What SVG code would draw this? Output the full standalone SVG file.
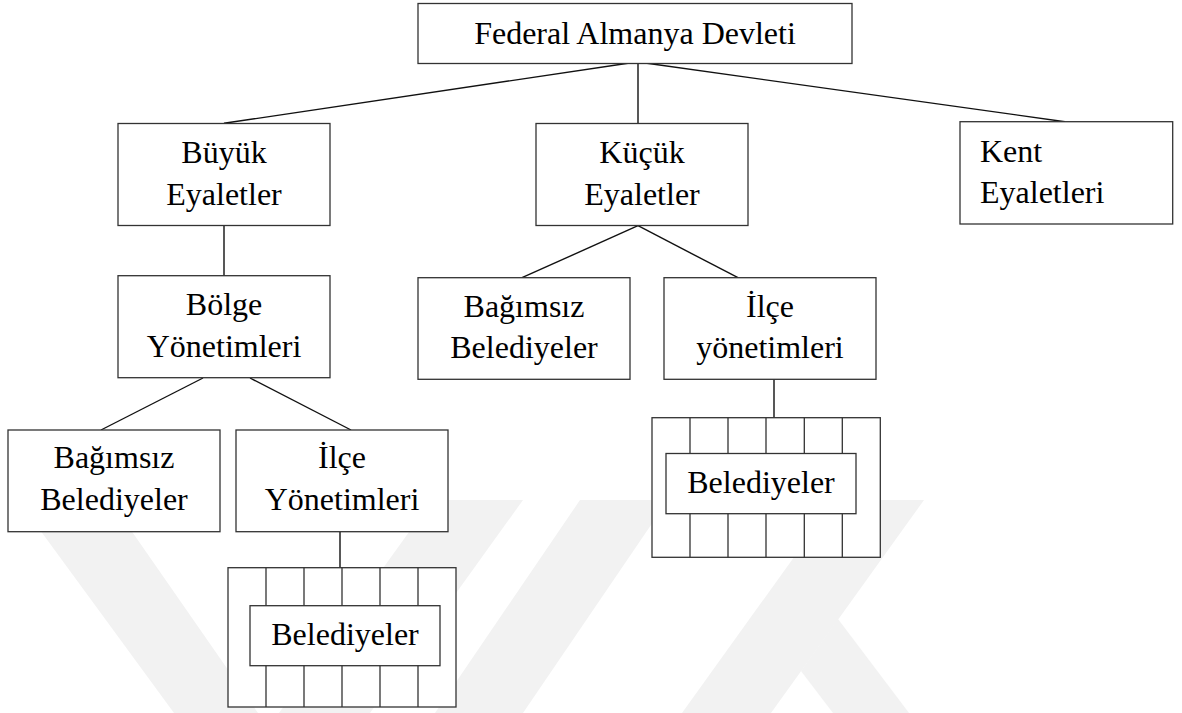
<svg xmlns="http://www.w3.org/2000/svg" width="1182" height="713" viewBox="0 0 1182 713">
<style>
.box{fill:#fff;stroke:#333;stroke-width:1.3}
.col{stroke:#333;stroke-width:1.3;fill:none}
.ln{stroke:#111;stroke-width:1.4;fill:none}
.t{font-family:"Liberation Serif","Times New Roman",serif;font-size:32px;fill:#000;text-anchor:middle}
.wm{fill:#f2f2f2}
</style>
<rect width="1182" height="713" fill="#fff"/>
<g id="watermark">
<polygon class="wm" points="18,500 110,500 258,713 174,713"/>
<polygon class="wm" points="432,500 523,500 370,713 279,713"/>
<polygon class="wm" points="580,500 668,500 523,713 435,713"/>
<polygon class="wm" points="835,500 924,500 771,713 682,713"/>
<polygon class="wm" points="801,671 838,619 909,713 833,713"/>
</g>
<g id="connectors">
<line class="ln" x1="628" y1="63.3" x2="224" y2="123.3"/>
<line class="ln" x1="638" y1="63.3" x2="638" y2="123.3"/>
<line class="ln" x1="647" y1="63.3" x2="1065" y2="121.7"/>
<line class="ln" x1="224" y1="225.7" x2="224" y2="275.7"/>
<line class="ln" x1="638" y1="225.7" x2="522" y2="277.7"/>
<line class="ln" x1="638" y1="225.7" x2="738" y2="277.7"/>
<line class="ln" x1="203" y1="378" x2="101" y2="430"/>
<line class="ln" x1="250" y1="378" x2="351" y2="430"/>
<line class="ln" x1="774" y1="379.3" x2="774" y2="417.7"/>
<line class="ln" x1="340" y1="531.7" x2="340" y2="567.7"/>
</g>
<g id="federal">
<rect class="box" x="418" y="3.5" width="434" height="60"/>
<text class="t" x="635" y="43.5">Federal Almanya Devleti</text>
</g>
<g id="buyuk">
<rect class="box" x="118" y="123.5" width="212" height="102"/>
<text class="t" x="224" y="162.7">Büyük</text>
<text class="t" x="224" y="205">Eyaletler</text>
</g>
<g id="kucuk">
<rect class="box" x="536" y="123.5" width="212" height="102"/>
<text class="t" x="642" y="162.7">Küçük</text>
<text class="t" x="642" y="205">Eyaletler</text>
</g>
<g id="kent">
<rect class="box" x="960" y="121.7" width="212.7" height="102.3"/>
<text class="t" x="980" y="161.7" style="text-anchor:start">Kent</text>
<text class="t" x="980" y="203.3" style="text-anchor:start">Eyaletleri</text>
</g>
<g id="bolge">
<rect class="box" x="118" y="275.7" width="212" height="102"/>
<text class="t" x="224" y="315">Bölge</text>
<text class="t" x="224" y="356.7">Yönetimleri</text>
</g>
<g id="bagimsiz2">
<rect class="box" x="418" y="277.7" width="212" height="101.6"/>
<text class="t" x="524" y="316.7">Bağımsız</text>
<text class="t" x="524" y="358.3">Belediyeler</text>
</g>
<g id="ilce2">
<rect class="box" x="664" y="277.7" width="212" height="101.6"/>
<text class="t" x="770" y="316.7">İlçe</text>
<text class="t" x="770" y="358.3">yönetimleri</text>
</g>
<g id="belediyeler2">
<rect class="box" x="652" y="417.7" width="228.3" height="139.6"/>
<path class="col" d="M690 417.7V557.3M728 417.7V557.3M766 417.7V557.3M804.3 417.7V557.3M842.3 417.7V557.3"/>
<rect class="box" x="666" y="453.5" width="190" height="60.2"/>
<text class="t" x="761" y="492.7">Belediyeler</text>
</g>
<g id="bagimsiz1">
<rect class="box" x="8" y="430" width="212" height="101.7"/>
<text class="t" x="114" y="468.3">Bağımsız</text>
<text class="t" x="114" y="510">Belediyeler</text>
</g>
<g id="ilce1">
<rect class="box" x="236" y="430" width="212" height="101.7"/>
<text class="t" x="342" y="468.3">İlçe</text>
<text class="t" x="342" y="510">Yönetimleri</text>
</g>
<g id="belediyeler1">
<rect class="box" x="228" y="567.7" width="228" height="139.3"/>
<path class="col" d="M266 567.7V707M304 567.7V707M342 567.7V707M380 567.7V707M418 567.7V707"/>
<rect class="box" x="250" y="605.7" width="190" height="60"/>
<text class="t" x="345" y="645">Belediyeler</text>
</g>
</svg>
